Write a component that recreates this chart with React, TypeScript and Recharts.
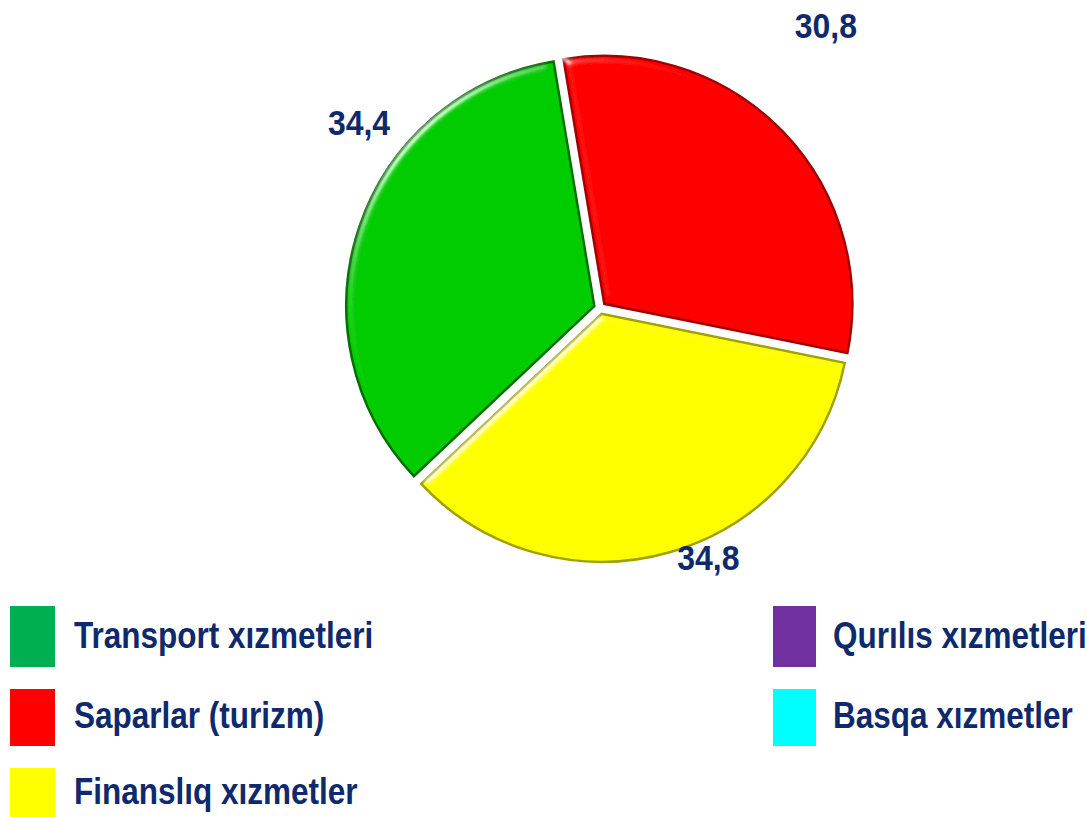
import { PieChart, Pie, Cell, Legend } from "recharts";

const categories = [
  "Transport xızmetleri",
  "Saparlar (turizm)",
  "Finanslıq xızmetler",
  "Qurılıs xızmetleri",
  "Basqa xızmetler",
];
const shares = [34.4, 30.8, 34.8, 0, 0];
const shareLabels = ["34,4", "30,8", "34,8", "", ""];
const sliceColors = ["#05cc05", "#ff0000", "#ffff00", "#7030a0", "#00ffff"];
const edgeColors = ["#067006", "#a00000", "#a0a000", "#401860", "#00a0a0"];
const legendColors = ["#00b050", "#ff0000", "#ffff00", "#7030a0", "#00ffff"];

const data = categories.map((name, i) => ({ name, value: shares[i], label: shareLabels[i] }));

const W = 1087;
const H = 817;
const CX = 595;
const CY = 303;
const R = 248;
const EXPLODE = 6;
const START = 223.3;
const NAVY = "#0e2a6c";
const FONT = "'Liberation Sans', Arial, sans-serif";

// label placement per slice: angle shift from the slice middle and distance from centre
const labelPlace = [
  { dA: -19, r: 292 },
  { dA: 6.4, r: 354 },
  { dA: 8, r: 273 },
];

// legend layout
const rowTops = [606, 689, 768];
const rowHeights = [61, 57, 57];
const rowBaselines = [648, 728, 804];
const colBoxX = [10, 773];
const colBoxW = [45, 43];
const colTextX = [74, 833];

const total = shares.reduce((a, b) => a + b, 0);
const midAngles = (() => {
  let a = START;
  return shares.map((v) => {
    const span = (v / total) * 360;
    const mid = a - span / 2;
    a -= span;
    return mid;
  });
})();

const RAD = Math.PI / 180;

const makeLabel = (k: number) => (props: any) => {
  const { cx, cy, midAngle, index } = props;
  if (index !== k || !shares[k]) return null;
  const p = labelPlace[k];
  const ang = (midAngle + p.dA) * RAD;
  const x = cx + p.r * Math.cos(ang) - 4;
  const y = cy - p.r * Math.sin(ang) - 6;
  return (
    <text
      transform={`translate(${x},${y}) scale(1,1.12)`}
      textAnchor="middle"
      dominantBaseline="central"
      fill={NAVY}
      fontFamily={FONT}
      fontWeight="bold"
      fontSize={32}
    >
      {shareLabels[k]}
    </text>
  );
};

const renderLegend = () => (
  <svg width={W} height={H - 590} style={{ display: "block" }}>
    {categories.map((name, i) => {
      const col = i < 3 ? 0 : 1;
      const row = i % 3;
      return (
        <g key={name}>
          <rect
            x={colBoxX[col]}
            y={rowTops[row] - 590}
            width={colBoxW[col]}
            height={rowHeights[row]}
            fill={legendColors[i]}
          />
          <text
            transform={`translate(${colTextX[col]},${rowBaselines[row] - 590}) scale(1,1.17)`}
            fill={NAVY}
            fontFamily={FONT}
            fontWeight="bold"
            fontSize={31.5}
          >
            {name}
          </text>
        </g>
      );
    })}
  </svg>
);

export default function App() {
  return (
    <div style={{ position: "absolute", left: 0, top: 0, width: W, height: H, background: "#fff" }}>
      <PieChart width={W} height={H}>
        <defs>
          <filter id="bevel" x="-10%" y="-10%" width="120%" height="120%">
            <feGaussianBlur in="SourceAlpha" stdDeviation="4" result="blur" />
            <feSpecularLighting
              in="blur"
              surfaceScale="4"
              specularConstant="0.5"
              specularExponent="70"
              lightingColor="#ffffff"
              result="spec"
            >
              <feDistantLight azimuth="225" elevation="40" />
            </feSpecularLighting>
            <feComposite in="spec" in2="SourceAlpha" operator="in" result="specIn" />
            <feComposite in="SourceGraphic" in2="specIn" operator="arithmetic" k1="0" k2="1" k3="1" k4="0" />
          </filter>
        </defs>
        {[0, 1, 2].map((k) => (
          <Pie
            key={k}
            data={data}
            dataKey="value"
            nameKey="name"
            cx={CX + EXPLODE * Math.cos(midAngles[k] * RAD)}
            cy={CY - EXPLODE * Math.sin(midAngles[k] * RAD)}
            outerRadius={R}
            innerRadius={0}
            startAngle={START}
            endAngle={START - 360}
            label={makeLabel(k)}
            labelLine={false}
            isAnimationActive={false}
            legendType="none"
          >
            {data.map((d, i) => (
              <Cell
                key={d.name}
                fill={i === k ? sliceColors[i] : "none"}
                stroke={i === k ? edgeColors[i] : "none"}
                strokeWidth={2.5}
                filter={i === k ? "url(#bevel)" : undefined}
              />
            ))}
          </Pie>
        ))}
        <Legend
          content={renderLegend}
          wrapperStyle={{ position: "absolute", left: 0, top: 590, width: W, height: H - 590 }}
        />
      </PieChart>
    </div>
  );
}
